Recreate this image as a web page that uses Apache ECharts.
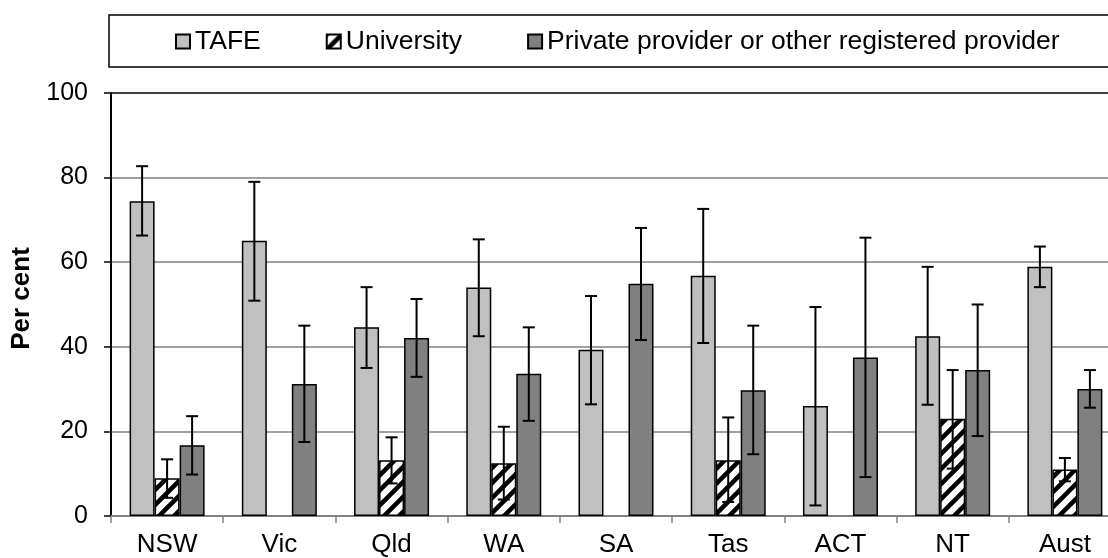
<!DOCTYPE html>
<html>
<head>
<meta charset="utf-8">
<script src="https://cdn.jsdelivr.net/npm/echarts@6/dist/echarts.min.js"></script>
<style>
  html, body { margin: 0; padding: 0; background: #fff; }
  #chart { width: 1108px; height: 558px; }
</style>
</head>
<body>
<div id="chart"></div>
<script>
const categories = ['NSW', 'Vic', 'Qld', 'WA', 'SA', 'Tas', 'ACT', 'NT', 'Aust'];
const seriesNames = ['TAFE', 'University', 'Private provider or other registered provider'];
const yTicks = [0, 20, 40, 60, 80, 100];

const tafe     = [74.4, 65.1, 44.6, 54.0, 39.3, 56.8, 26.0, 42.5, 58.9];
const tafeLow  = [66.3, 50.9, 35.0, 42.5, 26.4, 40.9, 2.5, 26.3, 54.1];
const tafeHigh = [82.7, 79.0, 54.1, 65.4, 52.0, 72.6, 49.4, 58.9, 63.7];

const univ     = [8.9, null, 13.2, 12.5, null, 13.2, null, 23.0, 11.0];
const univLow  = [4.3, null, 7.7, 3.9, null, 3.3, null, 11.2, 8.2];
const univHigh = [13.4, null, 18.6, 21.1, null, 23.3, null, 34.5, 13.7];

const priv     = [16.7, 31.2, 42.1, 33.6, 54.9, 29.7, 37.5, 34.5, 30.0];
const privLow  = [9.8, 17.5, 32.9, 22.5, 41.6, 14.6, 9.2, 18.9, 25.6];
const privHigh = [23.6, 45.0, 51.3, 44.6, 68.1, 45.0, 65.8, 50.0, 34.5];

const FONT = '"Liberation Sans", Arial, sans-serif';
const BAR_W = 25;

function hatchPattern() {
  const s = 15;
  const c = document.createElement('canvas');
  c.width = s; c.height = s;
  const g = c.getContext('2d');
  g.fillStyle = '#fff';
  g.fillRect(0, 0, s, s);
  g.strokeStyle = '#000';
  g.lineWidth = 4.5;
  g.beginPath();
  g.moveTo(-s, 2 * s); g.lineTo(2 * s, -s);
  g.moveTo(-s, s); g.lineTo(s, -s);
  g.moveTo(0, 2 * s); g.lineTo(2 * s, 0);
  g.stroke();
  return c;
}

function errData(low, high) {
  const out = [];
  for (let i = 0; i < low.length; i++) {
    if (low[i] != null && high[i] != null) out.push([i, low[i], high[i]]);
  }
  return out;
}

function errSeries(low, high, idx) {
  return {
    type: 'custom',
    z: 10,
    silent: true,
    data: errData(low, high),
    encode: { x: 0, y: [1, 2] },
    renderItem: function (params, api) {
      const ci = api.value(0);
      const lo = api.coord([ci, api.value(1)]);
      const hi = api.coord([ci, api.value(2)]);
      const x = lo[0] + (idx - 1) * BAR_W;
      const cap = 6;
      const st = { stroke: '#000', lineWidth: 2 };
      return {
        type: 'group',
        children: [
          { type: 'line', shape: { x1: x, y1: lo[1], x2: x, y2: hi[1] }, style: st },
          { type: 'line', shape: { x1: x - cap, y1: hi[1], x2: x + cap, y2: hi[1] }, style: st },
          { type: 'line', shape: { x1: x - cap, y1: lo[1], x2: x + cap, y2: lo[1] }, style: st }
        ]
      };
    }
  };
}

const chart = echarts.init(document.getElementById('chart'), null, { renderer: 'canvas' });
const hatch = hatchPattern();

const barStyle = (color) => ({ color: color, borderColor: '#000', borderWidth: 1.5 });

chart.setOption({
  animation: false,
  backgroundColor: '#fff',
  textStyle: { fontFamily: FONT },
  graphic: [{
    type: 'rect',
    shape: { x: 109, y: 15, width: 1030, height: 52 },
    style: { fill: 'none', stroke: '#000', lineWidth: 1.5 },
    z: 0
  }],
  legend: {
    left: 175,
    top: 28,
    padding: 0,
    itemWidth: 14,
    itemHeight: 14,
    itemGap: 65,
    icon: 'rect',
    data: seriesNames,
    textStyle: { fontFamily: FONT, fontSize: 26.5, color: '#000' }
  },
  grid: {
    left: 111,
    top: 93,
    bottom: 42,
    right: -13,
    containLabel: false,
    outerBoundsMode: 'none'
  },
  xAxis: {
    type: 'category',
    data: categories,
    boundaryGap: true,
    axisLine: { lineStyle: { color: '#808080', width: 2 } },
    axisTick: { show: true, length: 7, lineStyle: { color: '#808080', width: 1.5 } },
    axisLabel: { fontFamily: FONT, fontSize: 26, color: '#000', margin: 16 },
    splitLine: { show: false }
  },
  yAxis: {
    type: 'value',
    min: yTicks[0],
    max: yTicks[yTicks.length - 1],
    interval: 20,
    name: 'Per cent',
    nameLocation: 'middle',
    nameRotate: 90,
    nameGap: 76,
    nameTextStyle: { fontFamily: FONT, fontSize: 26, fontWeight: 'bold', color: '#000', padding: [0, 0, 0, 12] },
    axisLine: { show: true, lineStyle: { color: '#000', width: 2 } },
    axisTick: { show: true, length: 7, lineStyle: { color: '#000', width: 1.5 } },
    axisLabel: { fontFamily: FONT, fontSize: 25, color: '#000', margin: 23 },
    splitLine: {
      show: true,
      lineStyle: { color: ['#808080', '#808080', '#808080', '#808080', '#808080', '#000'], width: 1.5 }
    }
  },
  series: [
    {
      name: seriesNames[0], type: 'bar', data: tafe,
      barWidth: BAR_W, barGap: '0%',
      itemStyle: barStyle('#c0c0c0')
    },
    {
      name: seriesNames[1], type: 'bar', data: univ,
      barWidth: BAR_W, barGap: '0%',
      itemStyle: { color: { image: hatch, repeat: 'repeat' }, borderColor: '#000', borderWidth: 1.5 }
    },
    {
      name: seriesNames[2], type: 'bar', data: priv,
      barWidth: BAR_W, barGap: '0%',
      itemStyle: barStyle('#808080')
    },
    errSeries(tafeLow, tafeHigh, 0),
    errSeries(univLow, univHigh, 1),
    errSeries(privLow, privHigh, 2)
  ]
});
</script>
</body>
</html>
